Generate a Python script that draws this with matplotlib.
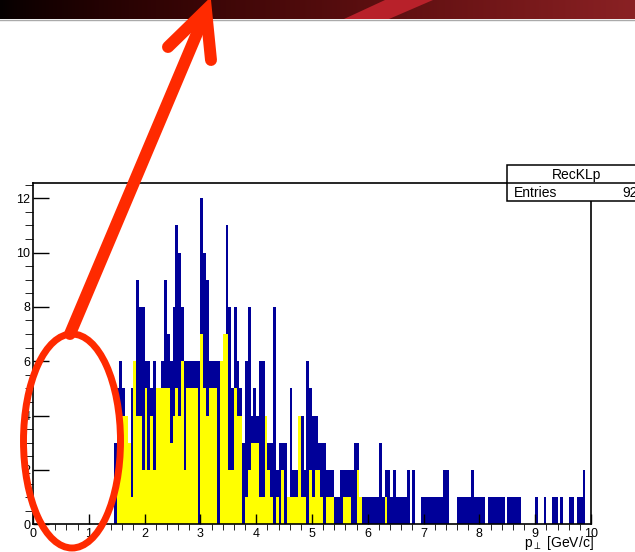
import numpy as np
import matplotlib.pyplot as plt
from matplotlib.patches import Ellipse, Polygon, Rectangle
from matplotlib.ticker import MultipleLocator

plt.rcParams['font.family'] = ['Liberation Sans', 'DejaVu Sans']

# histogram contents, bins of 0.05 GeV/c starting at 1.45
bin_start = 1.45
bin_width = 0.05
blue_counts = [
    3,
    5, 6, 5, 4, 3, 5, 6, 9, 8, 8,
    6, 6, 5, 6, 5, 5, 6, 9, 7, 6,
    8, 11, 10, 8, 6, 6, 6, 6, 6, 6,
    12, 10, 9, 6, 6, 6, 6, 6, 7, 11,
    8, 5, 8, 6, 5, 3, 6, 8, 4, 5,
    4, 6, 6, 4, 3, 3, 8, 2, 3, 3,
    3, 1, 5, 2, 2, 4, 4, 2, 6, 5,
    4, 4, 3, 3, 3, 2, 2, 2, 1, 1,
    2, 2, 2, 2, 2, 3, 3, 1, 1, 1,
    1, 1, 1, 1, 3, 1, 2, 2, 1, 2,
    1, 1, 1, 1, 2, 0, 2, 0, 0, 1,
    1, 1, 1, 1, 1, 1, 1, 2, 2, 0,
    0, 0, 1, 1, 1, 1, 1, 2, 1, 1,
    1, 1, 0, 1, 1, 1, 1, 1, 1, 0,
    1, 1, 1, 1, 1, 0, 0, 0, 0, 0,
    1, 0, 0, 1, 0, 0, 1, 1, 0, 1,
    0, 0, 1, 1, 0, 1, 1, 2, 0, 0,
]
yellow_counts = [
    0,
    2, 2, 4, 4, 3, 1, 6, 4, 4, 2,
    5, 2, 4, 2, 5, 5, 5, 5, 5, 3,
    4, 5, 4, 6, 2, 5, 5, 5, 5, 0,
    7, 5, 4, 5, 5, 5, 0, 6, 7, 7,
    2, 2, 5, 4, 4, 0, 1, 2, 3, 3,
    3, 1, 1, 4, 2, 1, 0, 1, 0, 2,
    0, 1, 1, 1, 1, 4, 1, 1, 0, 2,
    1, 2, 2, 1, 0, 1, 1, 1, 0, 0,
    0, 1, 1, 1, 0, 0, 2, 1, 0, 0,
    0, 0, 0, 0, 0, 0, 1, 0, 0, 0,
]
x_ticks = list(range(0, 11))
y_ticks = [0, 2, 4, 6, 8, 10, 12]
hist_name = "RecKLp"
n_entries = 924

W, H = 635, 552
fig = plt.figure(figsize=(W / 100, H / 100), dpi=100)
fig.patch.set_facecolor('white')

# main histogram pad
left, right, top, bottom = 33, 591, 183, 524.3
ax = fig.add_axes([left / W, 1 - bottom / H, (right - left) / W, (bottom - top) / H])

blue_edges = bin_start + bin_width * np.arange(len(blue_counts) + 1)
yellow_edges = bin_start + bin_width * np.arange(len(yellow_counts) + 1)
ax.stairs(blue_counts, blue_edges, fill=True, color='#000099', lw=0)
ax.stairs(yellow_counts, yellow_edges, fill=True, color='#ffff00', lw=0)

ax.set_xlim(0, 10)
ax.set_ylim(0, 12.56)
ax.set_xticks(x_ticks)
ax.set_yticks(y_ticks)
ax.xaxis.set_minor_locator(MultipleLocator(0.2))
ax.yaxis.set_minor_locator(MultipleLocator(0.5))
ax.tick_params(direction='in', width=1.0, labelsize=9, colors='black')
ax.tick_params(axis='x', which='major', length=7.2, pad=3)
ax.tick_params(axis='x', which='minor', length=4.3)
ax.tick_params(axis='y', which='major', length=11.5, pad=2)
ax.tick_params(axis='y', which='minor', length=5.8)
for s in ax.spines.values():
    s.set_linewidth(1.2)

# overlay in pixel coordinates for the screenshot decorations
ov = fig.add_axes([0, 0, 1, 1], zorder=10)
ov.set_xlim(0, W)
ov.set_ylim(H, 0)
ov.axis('off')
ov.patch.set_alpha(0)

# dark banner at the top
grad = np.linspace(0, 1, 256)
banner = np.zeros((1, 256, 3))
banner[0, :, 0] = 0.02 + 0.52 * grad ** 0.8
banner[0, :, 1] = 0.0 + 0.13 * grad ** 1.5
banner[0, :, 2] = 0.0 + 0.14 * grad ** 1.5
ov.imshow(banner, extent=[0, W, 19, 0], aspect='auto', zorder=1)
ov.add_patch(Polygon([(344, 19), (389, 19), (433, 0), (385, 0)],
                     closed=True, color='#b8212a', lw=0, zorder=2))
ov.plot([0, W], [19.5, 19.5], color='#aaaaaa', lw=1, zorder=2)
ov.set_xlim(0, W)
ov.set_ylim(H, 0)

# stats box
ov.add_patch(Rectangle((507, 165), 150, 36, facecolor='white', edgecolor='black', lw=1.1, zorder=3))
ov.plot([507, 657], [183, 183], color='black', lw=1.1, zorder=4)
ov.text(577, 174.5, hist_name, ha='center', va='center', fontsize=10, zorder=5)
ov.text(514, 193, "Entries", ha='left', va='center', fontsize=10, zorder=5)
ov.text(646, 193, str(n_entries), ha='right', va='center', fontsize=10, zorder=5)

# axis title
ov.text(594, 543, r"p$_{\perp}$ [GeV/c]", ha='right', va='center', fontsize=10, zorder=5)

# red annotation: ellipse and arrow
red = '#ff2a00'
ov.add_patch(Ellipse((72, 441), 97, 214, fill=False, ec=red, lw=5, zorder=6))
ov.plot([70, 206], [334, 12], color=red, lw=8.6, solid_capstyle='round', zorder=6)
ov.plot([168, 206, 211], [47, 10, 60], color=red, lw=8.6,
        solid_capstyle='round', solid_joinstyle='miter', zorder=6)

fig.savefig('out.png', dpi=100)
